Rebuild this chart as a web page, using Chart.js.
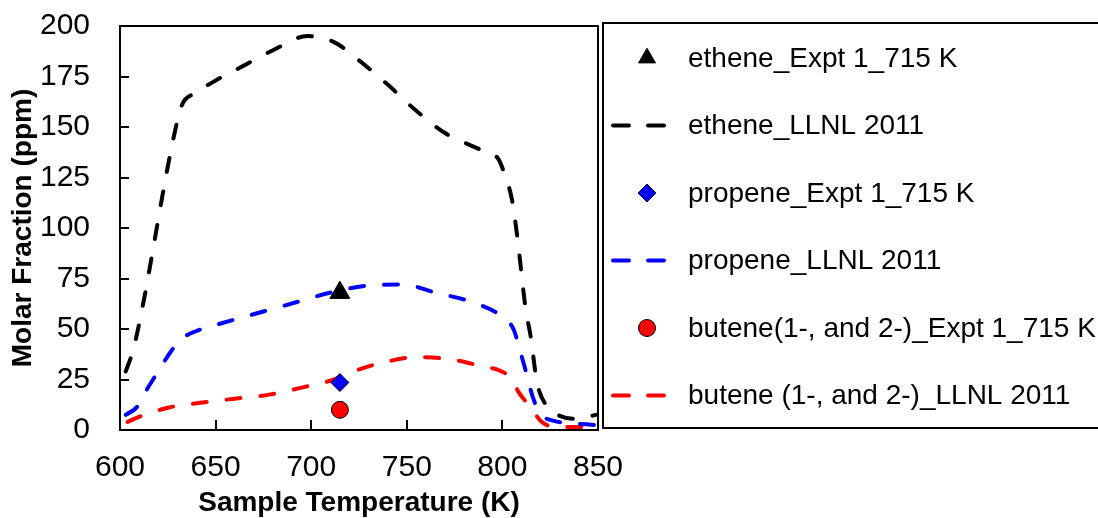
<!DOCTYPE html>
<html>
<head>
<meta charset="utf-8">
<script src="https://cdn.jsdelivr.net/npm/chart.js@4/dist/chart.umd.min.js"></script>
<style>
  html, body { margin: 0; padding: 0; background: #fff; }
</style>
</head>
<body>
<canvas id="molarChart" width="1098" height="518"></canvas>
<script>
// --- Data ---
const xTicks = [600, 650, 700, 750, 800, 850];
const yTicks = [0, 25, 50, 75, 100, 125, 150, 175, 200];

// experiment 1 at 715 K
const exptTemp = [715];
const etheneExpt = [68];
const propeneExpt = [23.5];
const buteneExpt = [10];

// LLNL 2011 model curves
const etheneTemp = [603, 607, 612, 617, 622, 627, 632, 640, 650, 662, 680, 698, 712, 725, 740, 755, 770, 788, 798, 801, 805, 808, 812, 815, 818, 824, 830, 838, 849];
const etheneModel = [29, 40, 62, 88, 115, 140, 160, 167, 173, 179, 188, 195, 192, 183, 171, 158, 147, 139, 134, 127, 114, 94, 61, 45, 24, 11, 7, 5.5, 7.5];

const propeneTemp = [603, 609, 614, 620, 626, 632, 640, 650, 665, 680, 695, 712, 730, 748, 765, 785, 800, 806, 809, 812, 816, 820, 827, 835, 848];
const propeneModel = [7.5, 11.5, 20, 29, 38, 45, 49, 52, 56, 60, 64, 68.5, 71.5, 72, 68, 63, 56, 49.5, 40, 30, 16, 8, 4.5, 3.5, 2.5];

const buteneTemp = [604, 610, 625, 642, 660, 678, 695, 712, 722, 738, 755, 773, 792, 797, 804, 809, 815, 820, 828, 850];
const buteneModel = [4, 6.5, 11, 13.5, 15.5, 17.5, 21, 25, 29, 33.5, 36, 35, 31, 30, 26, 18, 11, 4.5, 1.5, 1.5];

const toPoints = (xs, ys) => xs.map((x, i) => ({ x: x, y: ys[i] }));

const FONT = '"Liberation Sans", Arial, Helvetica, sans-serif';
Chart.defaults.font.family = FONT;
Chart.defaults.color = '#000';

// --- Helpers for the dashed model lines and the markers ---
const modelLine = (label, xs, ys, color) => ({
    label: label,
    data: toPoints(xs, ys),
    showLine: true,
    borderColor: color,
    backgroundColor: color,
    borderWidth: 4,
    borderDash: [14, 20],
    borderCapStyle: 'round',
    cubicInterpolationMode: 'monotone',
    pointRadius: 0,
    pointHoverRadius: 0
});

const exptPoint = (label, ys, style, fill, radius) => ({
    label: label,
    data: toPoints(exptTemp, ys),
    showLine: false,
    pointStyle: style,
    pointRadius: radius,
    pointHoverRadius: radius,
    backgroundColor: fill,
    borderColor: '#000',
    borderWidth: 1
});

// frame around the plot plus inward tick marks
const frameAndTicks = {
    id: 'frameAndTicks',
    beforeDatasetsDraw(chart) {
        const { ctx, chartArea: a, scales } = chart;
        ctx.save();
        ctx.strokeStyle = '#000';
        ctx.lineWidth = 2;
        ctx.strokeRect(a.left, a.top, a.right - a.left, a.bottom - a.top);
        ctx.beginPath();
        yTicks.forEach(v => {
            const y = Math.round(scales.y.getPixelForValue(v));
            ctx.moveTo(a.left, y);
            ctx.lineTo(a.left + 9, y);
        });
        xTicks.forEach(v => {
            const x = Math.round(scales.x.getPixelForValue(v));
            ctx.moveTo(x, a.bottom);
            ctx.lineTo(x, a.bottom - 10);
        });
        ctx.stroke();
        ctx.restore();
    }
};

function drawMarker(ctx, ds, x, y) {
    ctx.save();
    ctx.fillStyle = ds.backgroundColor;
    ctx.strokeStyle = ds.borderColor;
    ctx.lineWidth = ds.borderWidth;
    const r = ds.pointRadius;
    ctx.beginPath();
    if (ds.pointStyle === 'triangle') {
        const rr = r * 0.85;
        ctx.moveTo(x, y - rr);
        ctx.lineTo(x + rr * 0.866, y + rr * 0.5);
        ctx.lineTo(x - rr * 0.866, y + rr * 0.5);
        ctx.closePath();
    } else if (ds.pointStyle === 'rectRot') {
        ctx.moveTo(x - r, y);
        ctx.lineTo(x, y - r);
        ctx.lineTo(x + r, y);
        ctx.lineTo(x, y + r);
        ctx.closePath();
    } else {
        ctx.arc(x, y, r, 0, Math.PI * 2);
    }
    ctx.fill();
    ctx.stroke();
    ctx.restore();
}

// boxed legend to the right of the plot
const boxedLegend = {
    id: 'boxedLegend',
    afterDraw(chart) {
        const { ctx, chartArea: a } = chart;
        const left = a.right + 5;
        const top = 23;
        const bottom = 428;
        ctx.save();
        ctx.strokeStyle = '#000';
        ctx.lineWidth = 2;
        ctx.strokeRect(left, top, 1098 - left + 5, bottom - top);

        ctx.font = '28px ' + FONT;
        ctx.fillStyle = '#000';
        ctx.textBaseline = 'middle';
        ctx.textAlign = 'left';
        chart.data.datasets.forEach((ds, i) => {
            const y = 58 + i * 67.5;
            if (ds.showLine) {
                ctx.save();
                ctx.strokeStyle = ds.borderColor;
                ctx.lineWidth = 4;
                ctx.lineCap = 'round';
                ctx.setLineDash([16, 19]);
                ctx.beginPath();
                ctx.moveTo(613, y);
                ctx.lineTo(665, y);
                ctx.stroke();
                ctx.restore();
            } else {
                drawMarker(ctx, ds, 647, y);
            }
            ctx.fillText(ds.label, 688, y + 1);
        });
        ctx.restore();
    }
};

new Chart(document.getElementById('molarChart'), {
    type: 'scatter',
    data: {
        datasets: [
            exptPoint('ethene_Expt 1_715 K', etheneExpt, 'triangle', '#000', 11.5),
            modelLine('ethene_LLNL 2011', etheneTemp, etheneModel, '#000'),
            exptPoint('propene_Expt 1_715 K', propeneExpt, 'rectRot', '#0000ff', 9),
            modelLine('propene_LLNL 2011', propeneTemp, propeneModel, '#0000ff'),
            exptPoint('butene(1-, and 2-)_Expt 1_715 K', buteneExpt, 'circle', '#ff0000', 8.5),
            modelLine('butene (1-, and 2-)_LLNL 2011', buteneTemp, buteneModel, '#ff0000')
        ]
    },
    options: {
        responsive: false,
        animation: false,
        events: [],
        layout: { padding: { top: 26, right: 500, bottom: 0, left: 0 } },
        plugins: {
            legend: { display: false },
            tooltip: { enabled: false }
        },
        scales: {
            x: {
                type: 'linear',
                min: 600,
                max: 850,
                afterBuildTicks: s => { s.ticks = xTicks.map(v => ({ value: v })); },
                afterFit: s => { s.height = 88; s.paddingLeft = 0; s.paddingRight = 0; },
                grid: { display: false, drawTicks: false },
                border: { display: false },
                ticks: { font: { size: 30 }, padding: 20, color: '#000', maxRotation: 0 },
                title: {
                    display: true,
                    text: 'Sample Temperature (K)',
                    font: { size: 28, weight: 'bold', lineHeight: 1 },
                    color: '#000',
                    padding: { top: 0, bottom: 1 }
                }
            },
            y: {
                type: 'linear',
                min: 0,
                max: 200,
                afterBuildTicks: s => { s.ticks = yTicks.map(v => ({ value: v })); },
                afterFit: s => { s.width = 120; s.paddingTop = 0; s.paddingBottom = 0; },
                grid: { display: false, drawTicks: false },
                border: { display: false },
                ticks: { font: { size: 30 }, padding: 30, color: '#000' },
                title: {
                    display: true,
                    text: 'Molar Fraction (ppm)',
                    font: { size: 28, weight: 'bold', lineHeight: 1 },
                    color: '#000',
                    padding: { top: 9, bottom: 0 }
                }
            }
        }
    },
    plugins: [frameAndTicks, boxedLegend]
});
</script>
</body>
</html>
